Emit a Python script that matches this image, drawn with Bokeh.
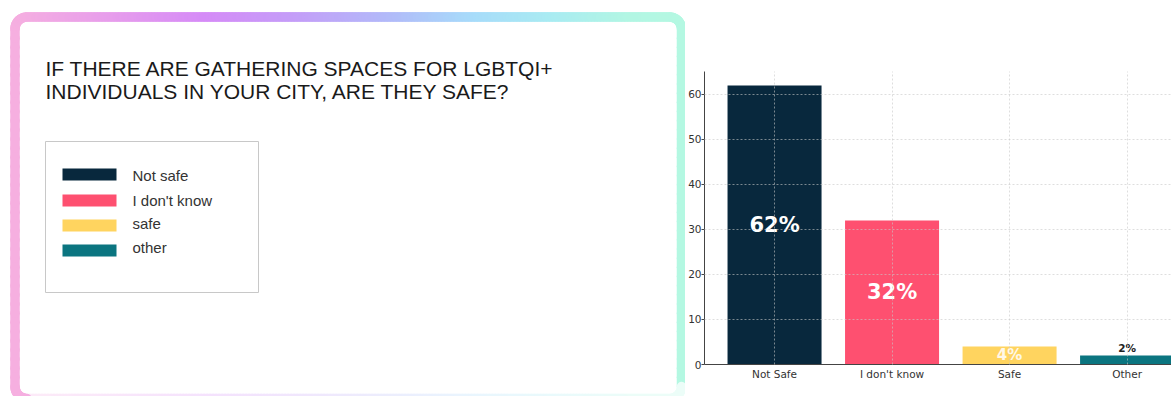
from bokeh.plotting import figure
from bokeh.models import Range1d, FixedTicker, ColumnDataSource
from bokeh.layouts import row
from bokeh.core.properties import value
from bokeh.embed import file_html
from bokeh.resources import INLINE
import math

# ---------------- data ----------------
title_lines = ["IF THERE ARE GATHERING SPACES FOR LGBTQI+",
               "INDIVIDUALS IN YOUR CITY, ARE THEY SAFE?"]
categories = ["Not Safe", "I don't know", "Safe", "Other"]
values = [62, 32, 4, 2]
bar_labels = ["62%", "32%", "4%", "2%"]
colors = ["#08283d", "#fe5070", "#ffd45f", "#0b7580"]
legend_labels = ["Not safe", "I don't know", "safe", "other"]

# ---------------- left panel (card, title, legend) ----------------
W1 = 685
left = figure(width=W1, height=396, x_range=Range1d(0, W1), y_range=Range1d(396, 0),
              output_backend="svg", toolbar_location=None, min_border=0,
              min_border_left=0, min_border_right=0, min_border_top=0, min_border_bottom=0)
left.axis.visible = False
left.grid.visible = False
left.outline_line_color = None
left.background_fill_color = "white"
left.border_fill_color = "white"
left.frame_align = False

stops = [(0, "#f8b2de"), (120, "#e69cec"), (210, "#d58bf7"), (300, "#c49df8"),
         (400, "#b1bbf9"), (480, "#a7dbfa"), (560, "#a9ebf2"), (640, "#b2f6e3"), (700, "#b5f8e2")]


def hex2rgb(h):
    return tuple(int(h[i:i + 2], 16) for i in (1, 3, 5))


def grad(x, fade=0.0):
    for (x0, c0), (x1, c1) in zip(stops[:-1], stops[1:]):
        if x <= x1:
            t = max(0.0, min(1.0, (x - x0) / (x1 - x0)))
            a, b = hex2rgb(c0), hex2rgb(c1)
            rgb = [a[i] + (b[i] - a[i]) * t for i in range(3)]
            break
    else:
        rgb = list(hex2rgb(stops[-1][1]))
    rgb = [c + (255 - c) * fade for c in rgb]
    return "#%02x%02x%02x" % tuple(int(round(c)) for c in rgb)


L, R, T, B, rad = 14.5, 681.0, 16.5, 398.0, 12.0
pts = []  # (x, y, fade)
for i in range(40):
    pts.append((L, B - rad - (B - rad - (T + rad)) * i / 39, 0.0))
for i in range(1, 12):
    a = math.pi + (math.pi / 2) * i / 11
    pts.append((L + rad + rad * math.cos(a), T + rad + rad * math.sin(a), 0.0))
n = int((R - L - 2 * rad) / 3)
for i in range(1, n + 1):
    pts.append((L + rad + (R - L - 2 * rad) * i / n, T, 0.0))
for i in range(1, 12):
    a = -math.pi / 2 + (math.pi / 2) * i / 11
    pts.append((R - rad + rad * math.cos(a), T + rad + rad * math.sin(a), 0.0))
for i in range(1, 40):
    pts.append((R, T + rad + (B - rad - (T + rad)) * i / 39, 0.0))
for i in range(1, 12):
    a = (math.pi / 2) * i / 11
    pts.append((R - rad + rad * math.cos(a), B - rad + rad * math.sin(a), 0.75))
for i in range(1, n + 1):
    pts.append((R - rad - (R - L - 2 * rad) * i / n, B, 0.75))
for i in range(1, 12):
    a = math.pi / 2 + (math.pi / 2) * i / 11
    pts.append((L + rad + rad * math.cos(a), B - rad + rad * math.sin(a), 0.0))

x0s = [p[0] for p in pts[:-1]]
y0s = [p[1] for p in pts[:-1]]
x1s = [p[0] for p in pts[1:]]
y1s = [p[1] for p in pts[1:]]
segcols = [grad((a[0] + b[0]) / 2 * 690.0 / R, b[2]) for a, b in zip(pts[:-1], pts[1:])]
left.segment(x0=x0s, y0=y0s, x1=x1s, y1=y1s, line_color=segcols, line_width=9.5, line_cap="round")

# title
left.text(x=[45, 45], y=[68, 91], text=title_lines, text_font=value("Liberation Sans"),
          text_font_size="21px", text_color="#1a1a1a", text_baseline="alphabetic", text_align="left")

# legend box
left.quad(left=[45], right=[258], top=[141], bottom=[292], fill_color="white",
          line_color="#c8c8c8", line_width=1)
sw_top = [168, 194, 219, 244]
left.quad(left=[62] * 4, right=[116] * 4, top=sw_top, bottom=[t + 12 for t in sw_top],
          fill_color=colors, line_color=None)
left.text(x=[132] * 4, y=[175, 200, 223, 247], text=legend_labels,
          text_font=value("Liberation Sans"), text_font_size="15px", text_color="#333333",
          text_baseline="middle", text_align="left")

# ---------------- right panel (bar chart) ----------------
xs = list(range(len(categories)))
right = figure(width=1171 - W1, height=396, x_range=Range1d(-0.596, 3.378), y_range=Range1d(0, 65.1),
               output_backend="svg", toolbar_location=None,
               min_border_left=19, min_border_right=0, min_border_top=71, min_border_bottom=32)
right.outline_line_color = None
right.background_fill_color = "white"
right.border_fill_color = "white"
right.frame_align = False

right.vbar(x=xs, top=values, width=0.8, fill_color=colors, line_color=None)

lab_y = [values[0] / 2, values[1] / 2, values[2] / 2, values[3] + 1.6]
lab_src = ColumnDataSource(dict(x=xs, y=lab_y, text=bar_labels,
                                color=["white", "white", "#fff8e8", "#222222"],
                                size=["21px", "21px", "15px", "10.5px"],
                                base=["middle", "middle", "middle", "alphabetic"]))
right.text(x="x", y="y", text="text", source=lab_src, text_color="color", text_font_size="size",
           text_baseline="base", text_align="center", text_font=value("DejaVu Sans"),
           text_font_style="bold")

ax = right.xaxis[0]
ax.ticker = FixedTicker(ticks=xs)
ax.major_label_overrides = {i: c for i, c in enumerate(categories)}
ax.major_label_text_font = "DejaVu Sans"
ax.major_label_text_font_size = "10.5px"
ax.major_label_text_color = "#333333"
ax.major_tick_out = 0
ax.major_tick_in = 0
ax.minor_tick_line_color = None
ax.major_label_standoff = 3
ax.axis_line_color = "#444444"

ay = right.yaxis[0]
ay.ticker = FixedTicker(ticks=[0, 10, 20, 30, 40, 50, 60])
ay.major_label_text_font = "DejaVu Sans"
ay.major_label_text_font_size = "10.5px"
ay.major_label_text_color = "#333333"
ay.major_tick_out = 3
ay.major_tick_in = 0
ay.minor_tick_line_color = None
ay.major_label_standoff = 0
ay.axis_line_color = "#444444"
ay.major_tick_line_color = "#444444"

for g in (right.xgrid[0], right.ygrid[0]):
    g.grid_line_color = "#c8c8c8"
    g.grid_line_alpha = 0.6
    g.grid_line_dash = "2 2"
    g.grid_line_width = 1
    g.level = "overlay"
right.xgrid[0].ticker = FixedTicker(ticks=xs)
right.ygrid[0].ticker = FixedTicker(ticks=[10, 20, 30, 40, 50, 60])

layout = row(left, right, spacing=0)
open("out.html", "w").write(file_html(layout, INLINE))
